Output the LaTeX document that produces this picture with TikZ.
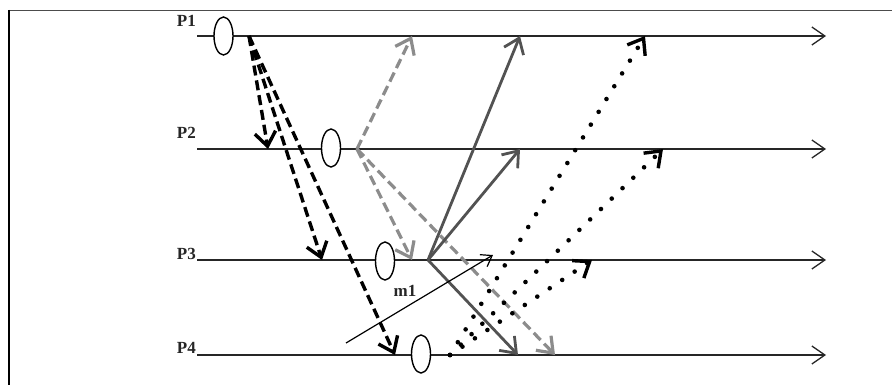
\documentclass[tikz,border=0pt]{standalone}
\usepackage{fontspec}
\setmainfont{Liberation Serif}
\usetikzlibrary{arrows.meta,shapes.geometric}
\begin{document}
\begin{tikzpicture}[x=1pt,y=-1pt,
  proc/.style={line width=1.4pt,black!85,-{Straight Barb[length=13pt,width=18pt,line width=1.3pt]}},
  evt/.style={draw,ellipse,fill=white,line width=1.4pt,minimum width=19pt,minimum height=38pt,inner sep=0pt},
  lbl/.style={font=\fontsize{17pt}{20pt}\selectfont\bfseries,inner sep=0pt,text=black!85},
  bigtip/.style={-{Straight Barb[length=14pt,width=21pt]}},
  blkdash/.style={bigtip,line width=3.4pt,black,dash pattern=on 10pt off 5pt},
  graydash/.style={bigtip,line width=3.2pt,black!45,dash pattern=on 10pt off 5pt},
  darksolid/.style={bigtip,line width=2.8pt,black!68},
  dotline/.style={line width=4.6pt,black,line cap=round,dash pattern=on 0pt off 15pt,
     -{Straight Barb[length=14pt,width=21pt,line width=3.4pt,line cap=butt]}},
  thinarrow/.style={line width=1.2pt,black,-{Straight Barb[length=10pt,width=14pt]}}
]
\useasboundingbox (0,0) rectangle (892,385);
% frame
\draw[line width=1pt,black!70] (8,11) -- (892,11);
\draw[line width=2.2pt,black] (9,10) -- (9,385);

% process lines
\coordinate (s1) at (197,36);  \coordinate (t1) at (826,36);
\coordinate (s2) at (197,149); \coordinate (t2) at (826,149);
\coordinate (s3) at (197,260); \coordinate (t3) at (826,260);
\coordinate (s4) at (197,355); \coordinate (t4) at (826,355);
\draw[proc] (s1) -- (t1);
\draw[proc] (s2) -- (t2);
\draw[proc] (s3) -- (t3);
\draw[proc] (s4) -- (t4);

\node[lbl,anchor=base east] (p1) at (196,27) {P1};
\node[lbl,anchor=base east] (p2) at (196,139) {P2};
\node[lbl,anchor=base east] (p3) at (196,259) {P3};
\node[lbl,anchor=base east] (p4) at (196,353) {P4};

% origins and targets
\coordinate (o1) at (249,36);
\coordinate (o2) at (357,149);
\coordinate (o3) at (428,260);
\coordinate (o4) at (450,355);

\coordinate (a12) at (268,149);
\coordinate (a13) at (322,260);
\coordinate (a14) at (395,355);
\coordinate (a21) at (412,36);
\coordinate (a23) at (412,260);
\coordinate (a24) at (555,355);
\coordinate (a31) at (520,36);
\coordinate (a32) at (520,149);
\coordinate (a34) at (518,355);
\coordinate (a41) at (645,36);
\coordinate (a42) at (663,149);
\coordinate (a43) at (592,260);

% gray dashed from P2
\draw[graydash] (o2) -- (a21);
\draw[graydash] (o2) -- (a23);
\draw[graydash] (o2) -- (a24);
% black dashed from P1
\draw[blkdash] (o1) -- (a12);
\draw[blkdash] (o1) -- (a13);
\draw[blkdash] (o1) -- (a14);
% dotted from P4
\draw[dotline] (o4) -- (a41);
\draw[dotline] (o4) -- (a42);
\draw[dotline] (o4) -- (a43);
% solid dark from P3
\draw[darksolid] (o3) -- (a31);
\draw[darksolid] (o3) -- (a32);
\draw[darksolid] (o3) -- (a34);

% m1
\coordinate (m1s) at (346,343);
\coordinate (m1e) at (493,255);
\draw[thinarrow] (m1s) -- (m1e);
\node[lbl,anchor=base] (m1) at (405,296) {m1};

% events
\node[evt] (e1) at (223.5,36) {};
\node[evt] (e2) at (331,148) {};
\node[evt] (e3) at (385,261) {};
\node[evt] (e4) at (421,354) {};
\end{tikzpicture}
\end{document}
